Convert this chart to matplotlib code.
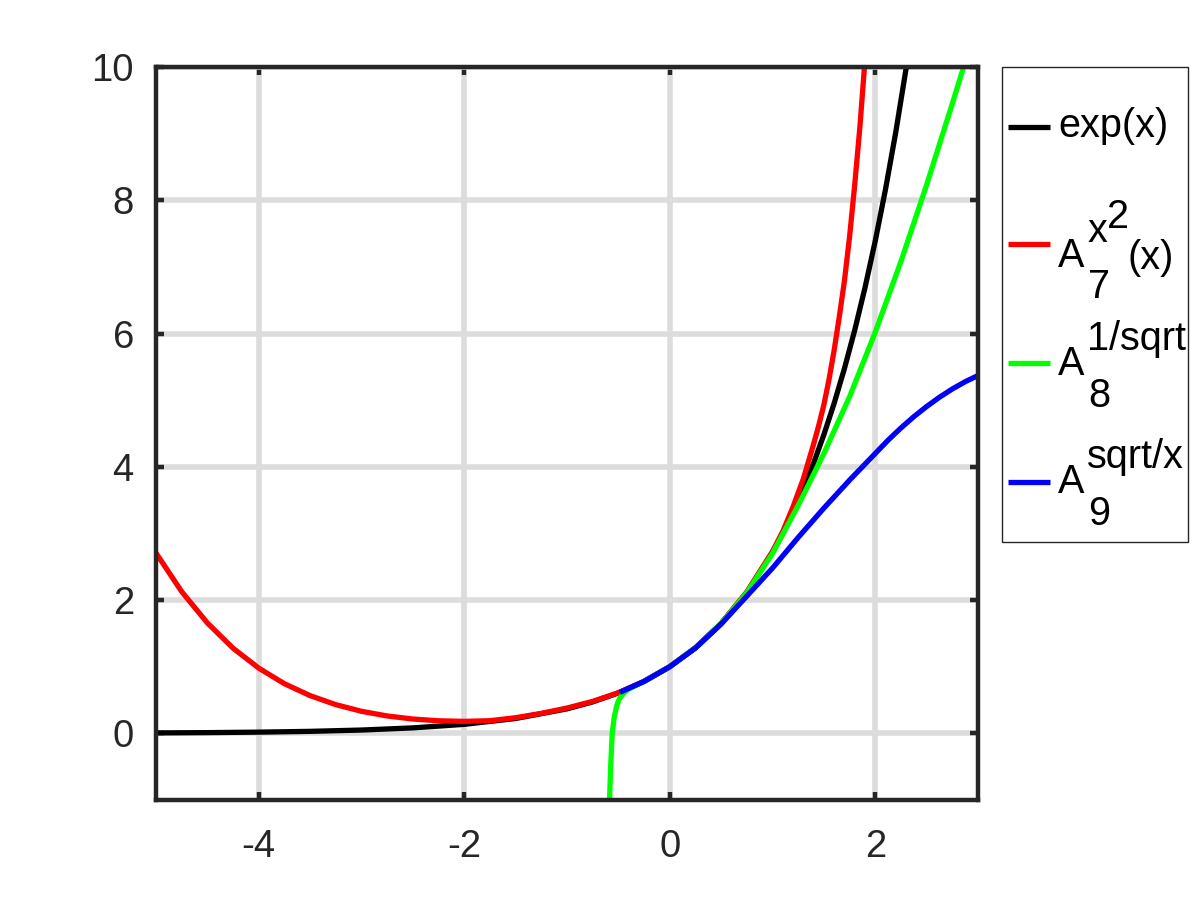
import numpy as np
import matplotlib
matplotlib.use("Agg")
import matplotlib.pyplot as plt
from matplotlib.patches import Rectangle
from matplotlib.lines import Line2D

plt.rcParams['font.family'] = ['Liberation Sans', 'DejaVu Sans']

# values
x_exp = [-5.0, -4.5, -4.0, -3.5, -3.0, -2.5, -2.0, -1.5, -1.0, -0.75, -0.5, -0.25, 0.0, 0.25, 0.5,
         0.75, 1.0, 1.1, 1.2, 1.3, 1.4, 1.5, 1.6, 1.7, 1.8, 1.9, 2.0, 2.1, 2.2, 2.3026]
y_exp = [0.0067, 0.0111, 0.0183, 0.0302, 0.0498, 0.0821, 0.1353, 0.2231, 0.3679, 0.4724, 0.6065,
         0.7788, 1.0, 1.284, 1.6487, 2.117, 2.7183, 3.004, 3.320, 3.669, 4.055, 4.482, 4.953,
         5.474, 6.050, 6.686, 7.389, 8.166, 9.025, 10.0]

x_red = [-5.0, -4.75, -4.5, -4.25, -4.0, -3.75, -3.5, -3.25, -3.0, -2.75, -2.5, -2.25, -2.0, -1.75,
         -1.5, -1.25, -1.0, -0.75, -0.5, -0.25, 0.0, 0.25, 0.5, 0.75, 1.0, 1.1, 1.2, 1.3, 1.4, 1.45,
         1.5, 1.55, 1.6, 1.65, 1.7, 1.75, 1.8, 1.85, 1.895]
y_red = [2.707, 2.127, 1.657, 1.278, 0.979, 0.745, 0.566, 0.431, 0.331, 0.261, 0.215, 0.189, 0.18,
         0.19, 0.235, 0.30, 0.38, 0.48, 0.61, 0.78, 1.0, 1.284, 1.65, 2.12, 2.73, 3.03, 3.40, 3.82,
         4.34, 4.62, 4.93, 5.31, 5.75, 6.25, 6.79, 7.45, 8.23, 9.09, 10.0]

x_green = [-0.586, -0.575, -0.56, -0.54, -0.515, -0.49, -0.45, -0.4, -0.25, 0.0, 0.25, 0.5, 0.75,
           1.0, 1.25, 1.5, 1.75, 2.0, 2.25, 2.5, 2.75, 2.86]
y_green = [-1.0, -0.5, 0.0, 0.25, 0.42, 0.52, 0.6, 0.665, 0.78, 1.0, 1.284, 1.648, 2.11,
           2.70, 3.42, 4.20, 5.05, 6.02, 7.08, 8.23, 9.45, 10.0]

x_blue = [-0.486, -0.25, 0.0, 0.25, 0.5, 0.75, 1.0, 1.25, 1.5, 1.75, 2.0, 2.125, 2.25, 2.375, 2.5,
          2.625, 2.75, 2.875, 3.0]
y_blue = [0.615, 0.78, 1.0, 1.28, 1.64, 2.06, 2.48, 2.94, 3.38, 3.80, 4.20, 4.40, 4.583, 4.752,
          4.905, 5.044, 5.168, 5.277, 5.37]

xticks = [-4, -2, 0, 2]
yticks = [0, 2, 4, 6, 8, 10]

W, H = 1200, 900
fig = plt.figure(figsize=(12, 9), dpi=100)
ax = fig.add_axes([156 / W, 1 - 800 / H, (978 - 156) / W, (800 - 67) / H])

lw = 3.8
ax.plot(x_exp, y_exp, color='black', lw=lw, solid_capstyle='butt')
ax.plot(x_red, y_red, color='#ff0000', lw=lw, solid_capstyle='butt')
ax.plot(x_green, y_green, color='#00ff00', lw=lw, solid_capstyle='butt')
ax.plot(x_blue, y_blue, color='#0000ff', lw=lw, solid_capstyle='butt')

ax.set_xlim(-5, 3)
ax.set_ylim(-1, 10)
ax.set_xticks(xticks)
ax.set_yticks(yticks)
ax.set_xticklabels([str(t) for t in xticks])
ax.set_yticklabels([str(t) for t in yticks])

axcol = '#262626'
ax.set_axisbelow(True)
ax.grid(True, color='#dcdcdc', lw=4.0)
for s in ax.spines.values():
    s.set_linewidth(3.2)
    s.set_color(axcol)
ax.tick_params(direction='in', length=5.8, width=3.2, color=axcol, labelcolor=axcol,
               labelsize=27.5, top=True, right=True)
ax.tick_params(axis='y', pad=16)
ax.tick_params(axis='x', pad=21)


# hand-built legend (sub/superscripts at full size, like the original)
def fx(px):
    return px / W


def fy(py):
    return 1 - py / H


fig.patches.append(Rectangle((fx(1001.5), fy(541.5)), fx(1188) - fx(1001.5), fy(67.5) - fy(541.5),
                             transform=fig.transFigure, fill=True, facecolor='white',
                             edgecolor=axcol, lw=1.0))

fs = 28.5
entries = [
    ('black', 126.7, [('exp(x)', 1058, 137)]),
    ('#ff0000', 244, [('A', 1058, 267), ('x', 1088, 242), ('2', 1107, 228),
                      ('7', 1088, 298), ('(x)', 1128, 269)]),
    ('#00ff00', 363, [('A', 1058, 375), ('1/sqrt', 1087, 350), ('8', 1088, 407)]),
    ('#0000ff', 482, [('A', 1058, 493), ('sqrt/x', 1087, 468), ('9', 1088, 525)]),
]
for col, ly, texts in entries:
    fig.lines.append(Line2D([fx(1008), fx(1050)], [fy(ly), fy(ly)], transform=fig.transFigure,
                            color=col, lw=lw, solid_capstyle='butt'))
    for s, tx, ty in texts:
        fig.text(fx(tx), fy(ty), s, fontsize=fs, color='black', ha='left', va='baseline')

fig.savefig('out.png', dpi=100)
